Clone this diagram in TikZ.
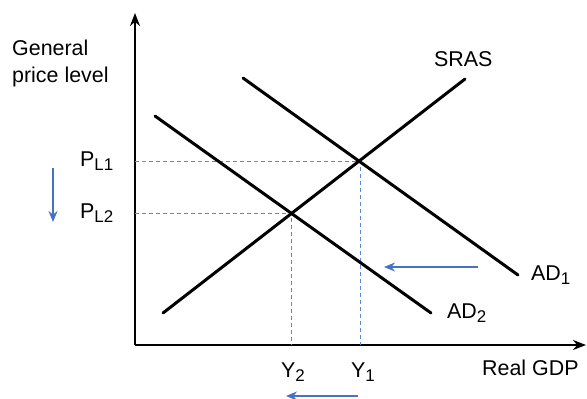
\documentclass[tikz,border=0pt]{standalone}
\usepackage{fontspec}
\setmainfont{Liberation Sans}
\usetikzlibrary{arrows.meta}
\definecolor{arrblue}{RGB}{68,114,196}
\definecolor{guideblue}{RGB}{90,135,215}
\tikzset{
  lbl/.style={inner sep=0pt, font=\fontsize{21.5}{25}\selectfont},
  axisline/.style={line width=2bp, -{Stealth[length=13bp,width=10bp]}},
  curve/.style={line width=3bp, line cap=round},
  guide/.style={guideblue, line width=1.4bp, dash pattern=on 4bp off 3bp},
  movearrow/.style={arrblue, line width=2bp, -{Stealth[length=11bp,width=9bp]}}
}
\newcommand{\sbs}[1]{\raisebox{-0.2em}{\fontsize{17}{20}\selectfont #1}}
\begin{document}
\begin{tikzpicture}[x=1bp,y=-1bp]
\useasboundingbox (0,0) rectangle (587,398);
\clip (0,0) rectangle (587,398);
% axes
\coordinate (O) at (135,345);
\coordinate (ytop) at (135,13);
\coordinate (xend) at (586,345);
\draw[axisline] (O) -- (ytop);
\draw[axisline] (O) -- (xend);
% curves
\coordinate (s1) at (163,313);
\coordinate (s2) at (465,79);
\coordinate (a1) at (243,78);
\coordinate (a2) at (518,275);
\coordinate (b1) at (155,116);
\coordinate (b2) at (431,313);
% equilibrium points (pixel-aligned)
\coordinate (E1) at (360.5,161.5);
\coordinate (E2) at (291.5,213.5);
% guides
\draw[guide] (O |- E1) -- (E1) -- (E1 |- O);
\draw[guide] (O |- E2) -- (E2) -- (E2 |- O);
\draw[curve] (s1) -- (s2);
\draw[curve] (a1) -- (a2);
\draw[curve] (b1) -- (b2);
% labels
\node[lbl, anchor=base west] (gen) at (12,55) {General};
\node[lbl, anchor=base west] (pl) at (12,82) {price level};
\node[lbl, anchor=base west] (pl1) at (80,166) {P\sbs{L1}};
\node[lbl, anchor=base west] (pl2) at (80,218) {P\sbs{L2}};
\node[lbl, anchor=base west] (y2) at (281,377) {Y\sbs{2}};
\node[lbl, anchor=base west] (y1) at (351,377) {Y\sbs{1}};
\node[lbl, anchor=base west] (gdp) at (482,375) {Real GDP};
\node[lbl, anchor=base west] (sras) at (434,66) {SRAS};
\node[lbl, anchor=base west] (ad1) at (531,280) {AD\sbs{1}};
\node[lbl, anchor=base west] (ad2) at (447,318) {AD\sbs{2}};
% shift arrows
\coordinate (d1) at (53,168);
\coordinate (d2) at (53,222);
\draw[movearrow] (d1) -- (d2);
\coordinate (m1) at (478,267);
\coordinate (m2) at (384,267);
\draw[movearrow] (m1) -- (m2);
\coordinate (q1) at (358,396);
\coordinate (q2) at (286,396);
\draw[movearrow] (q1) -- (q2);
\end{tikzpicture}
\end{document}
